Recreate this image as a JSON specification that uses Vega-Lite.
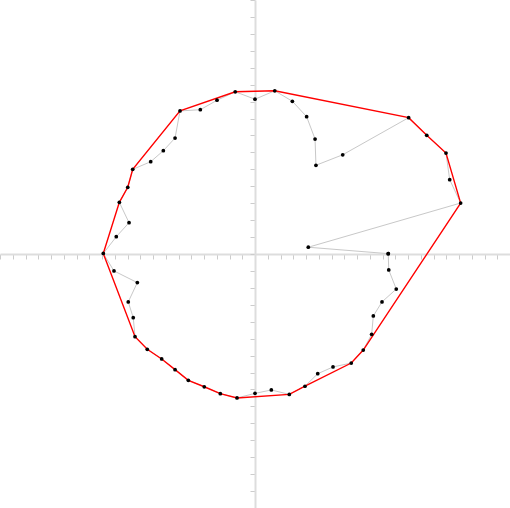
{
  "$schema": "https://vega.github.io/schema/vega-lite/v6.json",
  "width": 510,
  "height": 508,
  "padding": 0,
  "autosize": "none",
  "background": "white",
  "datasets": {
    "pts": [
      {"i": 1, "x": 10.45, "y": 0.02},
      {"i": 2, "x": 10.49, "y": -0.94},
      {"i": 3, "x": 11.08, "y": -2.07},
      {"i": 4, "x": 9.96, "y": -2.83},
      {"i": 5, "x": 9.28, "y": -3.66},
      {"i": 6, "x": 9.15, "y": -4.74},
      {"i": 7, "x": 8.49, "y": -5.67},
      {"i": 8, "x": 7.55, "y": -6.44},
      {"i": 9, "x": 6.12, "y": -6.67},
      {"i": 10, "x": 4.92, "y": -7.07},
      {"i": 11, "x": 3.92, "y": -7.81},
      {"i": 12, "x": 2.69, "y": -8.29},
      {"i": 13, "x": 1.28, "y": -8.03},
      {"i": 14, "x": 0.0, "y": -8.23},
      {"i": 15, "x": -1.41, "y": -8.5},
      {"i": 16, "x": -2.72, "y": -8.25},
      {"i": 17, "x": -3.98, "y": -7.84},
      {"i": 18, "x": -5.23, "y": -7.46},
      {"i": 19, "x": -6.27, "y": -6.83},
      {"i": 20, "x": -7.32, "y": -6.2},
      {"i": 21, "x": -8.45, "y": -5.63},
      {"i": 22, "x": -9.41, "y": -4.88},
      {"i": 23, "x": -9.55, "y": -3.76},
      {"i": 24, "x": -9.94, "y": -2.83},
      {"i": 25, "x": -9.23, "y": -1.69},
      {"i": 26, "x": -11.06, "y": -1.0},
      {"i": 27, "x": -11.9, "y": 0.03},
      {"i": 28, "x": -10.88, "y": 1.02},
      {"i": 29, "x": -9.88, "y": 1.85},
      {"i": 30, "x": -10.64, "y": 3.05},
      {"i": 31, "x": -9.98, "y": 3.94},
      {"i": 32, "x": -9.59, "y": 5.0},
      {"i": 33, "x": -8.18, "y": 5.45},
      {"i": 34, "x": -7.19, "y": 6.1},
      {"i": 35, "x": -6.27, "y": 6.85},
      {"i": 36, "x": -5.88, "y": 8.45},
      {"i": 37, "x": -4.29, "y": 8.52},
      {"i": 38, "x": -2.98, "y": 9.08},
      {"i": 39, "x": -1.55, "y": 9.58},
      {"i": 40, "x": 0.0, "y": 9.14},
      {"i": 41, "x": 1.55, "y": 9.64},
      {"i": 42, "x": 2.93, "y": 9.02},
      {"i": 43, "x": 4.05, "y": 8.11},
      {"i": 44, "x": 4.71, "y": 6.79},
      {"i": 45, "x": 4.78, "y": 5.24},
      {"i": 46, "x": 6.88, "y": 5.86},
      {"i": 47, "x": 12.05, "y": 8.05},
      {"i": 48, "x": 13.47, "y": 7.01},
      {"i": 49, "x": 14.98, "y": 5.96},
      {"i": 50, "x": 15.27, "y": 4.39},
      {"i": 51, "x": 16.13, "y": 3.01},
      {"i": 52, "x": 4.18, "y": 0.4},
      {"i": 53, "x": 10.45, "y": 0.02}
    ],
    "hull": [
      {"i": 1, "x": -11.9, "y": 0.03},
      {"i": 2, "x": -10.64, "y": 3.05},
      {"i": 3, "x": -9.98, "y": 3.94},
      {"i": 4, "x": -9.59, "y": 5.0},
      {"i": 5, "x": -5.88, "y": 8.45},
      {"i": 6, "x": -1.55, "y": 9.58},
      {"i": 7, "x": 1.55, "y": 9.64},
      {"i": 8, "x": 12.05, "y": 8.05},
      {"i": 9, "x": 13.47, "y": 7.01},
      {"i": 10, "x": 14.98, "y": 5.96},
      {"i": 11, "x": 16.13, "y": 3.01},
      {"i": 12, "x": 8.49, "y": -5.67},
      {"i": 13, "x": 7.55, "y": -6.44},
      {"i": 14, "x": 3.92, "y": -7.81},
      {"i": 15, "x": 2.69, "y": -8.29},
      {"i": 16, "x": -1.41, "y": -8.5},
      {"i": 17, "x": -2.72, "y": -8.25},
      {"i": 18, "x": -3.98, "y": -7.84},
      {"i": 19, "x": -5.23, "y": -7.46},
      {"i": 20, "x": -6.27, "y": -6.83},
      {"i": 21, "x": -7.32, "y": -6.2},
      {"i": 22, "x": -8.45, "y": -5.63},
      {"i": 23, "x": -9.41, "y": -4.88},
      {"i": 24, "x": -11.9, "y": 0.03}
    ]
  },
  "encoding": {
    "x": {
      "field": "x",
      "type": "quantitative",
      "scale": {"domain": [-20, 20], "nice": false, "zero": false},
      "axis": {
        "title": null,
        "labels": false,
        "grid": false,
        "offset": -254,
        "values": [-20, -19, -18, -17, -16, -15, -14, -13, -12, -11, -10, -9, -8, -7, -6, -5, -4, -3, -2, -1, 0, 1, 2, 3, 4, 5, 6, 7, 8, 9, 10, 11, 12, 13, 14, 15, 16, 17, 18, 19, 20]
      }
    },
    "y": {
      "field": "y",
      "type": "quantitative",
      "scale": {"domain": [-15, 15], "nice": false, "zero": false},
      "axis": {
        "title": null,
        "labels": false,
        "grid": false,
        "offset": -255,
        "values": [-15, -14, -13, -12, -11, -10, -9, -8, -7, -6, -5, -4, -3, -2, -1, 0, 1, 2, 3, 4, 5, 6, 7, 8, 9, 10, 11, 12, 13, 14, 15]
      }
    }
  },
  "layer": [
    {
      "data": {"name": "pts"},
      "mark": {"type": "line", "color": "#c8c8c8", "strokeWidth": 1},
      "encoding": {"order": {"field": "i", "type": "quantitative"}}
    },
    {
      "data": {"name": "hull"},
      "mark": {"type": "line", "color": "red", "strokeWidth": 1.4},
      "encoding": {"order": {"field": "i", "type": "quantitative"}}
    },
    {
      "data": {"name": "pts"},
      "mark": {"type": "circle", "color": "black", "opacity": 1, "size": 14}
    }
  ],
  "config": {
    "view": {"stroke": null},
    "axis": {
      "domainColor": "#dddddd",
      "domainWidth": 2,
      "tickColor": "#cccccc",
      "tickSize": 5,
      "tickWidth": 1
    }
  }
}
